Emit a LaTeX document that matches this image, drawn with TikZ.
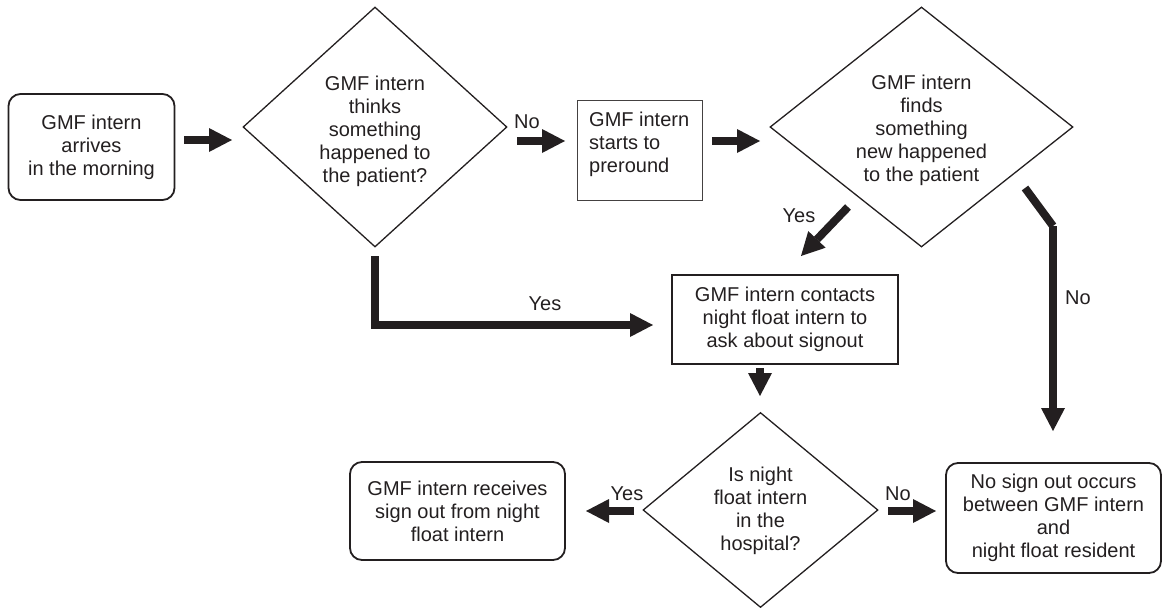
\documentclass[tikz,border=0pt]{standalone}
\usepackage{fontspec}
\setmainfont{Liberation Sans}
\usetikzlibrary{arrows.meta,shapes.geometric}
\definecolor{ink}{HTML}{231F20}
\begin{document}
\begin{tikzpicture}[x=1pt,y=-1pt,
  every node/.style={font=\fontsize{20}{23}\selectfont, text=ink, inner sep=0pt, align=center},
  rbox/.style={draw=ink, line width=1.8pt, rounded corners=12pt},
  sbox/.style={draw=ink, line width=1.8pt},
  thinbox/.style={draw=ink!85, line width=1pt},
  dia/.style={diamond, draw=ink, line width=1.3pt},
  fat/.style={draw=ink, line width=8pt, -{Triangle[length=23pt,width=24pt,line width=0pt]}},
  bar/.style={draw=ink, line width=8pt}]
\useasboundingbox (0,0) rectangle (1163,608);

% boxes
\node[rbox, minimum width=166pt, minimum height=106pt] (b1) at (91.5,147) {GMF intern\\arrives\\in the morning};
\node[thinbox, minimum width=125pt, minimum height=100pt] (b2) at (639.5,150) {};
\node[anchor=north west, align=left] (b2t) at (589,112) {GMF intern\\starts to\\preround};
\node[sbox, minimum width=226pt, minimum height=89pt] (b3) at (785,319.5) {GMF intern contacts\\night float intern to\\ask about signout};
\node[rbox, minimum width=215pt, minimum height=110pt] (b4) at (1053.5,518) {No sign out occurs\\between GMF intern\\and\\night float resident};
\node[rbox, minimum width=215pt, minimum height=98pt] (b5) at (457.5,511) {GMF intern receives\\sign out from night\\float intern};

% diamonds
\node[dia, minimum width=264pt, minimum height=240pt] (d1) at (375,127) {};
\node (d1t) at (375,131) {GMF intern\\thinks\\something\\happened to\\the patient?};
\node[dia, minimum width=303pt, minimum height=240pt] (d2) at (921.5,127) {};
\node (d2t) at (921.5,130) {GMF intern\\finds\\something\\new happened\\to the patient};
\node[dia, minimum width=235pt, minimum height=195pt] (d3) at (760.5,510) {};
\node (d3t) at (760.5,511) {Is night\\float intern\\in the\\hospital?};

% labels
\node (l1) at (527,122) {No};
\node (l2) at (545,304) {Yes};
\node (l3) at (799,216) {Yes};
\node (l4) at (1078,298) {No};
\node (l5) at (627,494) {Yes};
\node (l6) at (898,494) {No};

% arrow end points
\coordinate (a1s) at (184,140); \coordinate (a1e) at (232,140);
\coordinate (a2s) at (517,141); \coordinate (a2e) at (565,141);
\coordinate (a3s) at (712,141); \coordinate (a3e) at (760,141);
\coordinate (y1a) at (375,256); \coordinate (y1b) at (375,325); \coordinate (y1c) at (653,325);
\coordinate (y2s) at (848,207); \coordinate (y2e) at (801,256);
\coordinate (n2a) at (1025,188); \coordinate (n2b) at (1053,226); \coordinate (n2c) at (1053,431);
\coordinate (dns) at (760,368); \coordinate (dne) at (760,396);
\coordinate (y3s) at (634,511); \coordinate (y3e) at (586,511);
\coordinate (n3s) at (888,511); \coordinate (n3e) at (936,511);

% arrows
\draw[fat] (a1s) -- (a1e);
\draw[fat] (a2s) -- (a2e);
\draw[fat] (a3s) -- (a3e);
\draw[fat] (y1a) -- (y1b) -- (y1c);
\draw[fat] (y2s) -- (y2e);
\draw[bar] (n2a) -- (n2b);
\draw[fat] (n2b) -- (n2c);
\draw[fat] (dns) -- (dne);
\draw[fat] (y3s) -- (y3e);
\draw[fat] (n3s) -- (n3e);
\end{tikzpicture}
\end{document}
